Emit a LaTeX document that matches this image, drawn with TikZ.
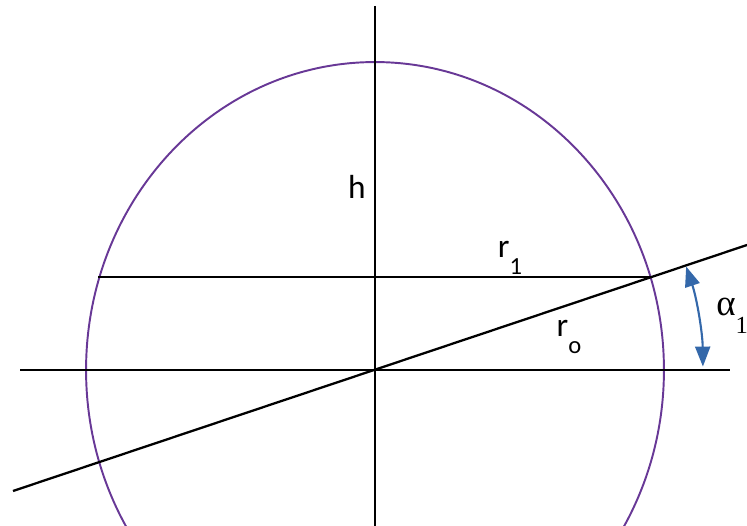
\documentclass[tikz,border=0pt]{standalone}
\usepackage{fontspec}
\setsansfont{Carlito}
\setmainfont{Liberation Serif}
\usetikzlibrary{arrows.meta}
\definecolor{rimpurple}{RGB}{104,56,150}
\definecolor{angleblue}{RGB}{52,104,170}
\newcommand{\sublabel}[2]{#1\raisebox{-0.5em}{\fontsize{14}{16}\selectfont #2}}

\begin{document}
\begin{tikzpicture}[x=0.02cm, y=-0.02cm]
\tikzstyle{axis} = [line width=1pt, black]
\tikzstyle{rim} = [line width=1.1pt, rimpurple]
\tikzstyle{anglearrow} = [line width=1.2pt, angleblue, {Triangle[length=4mm, width=3mm]}-{Triangle[length=4mm, width=3mm]}]
\tikzstyle{label} = [font=\sffamily\fontsize{19}{22}\selectfont, inner sep=0pt]
\tikzstyle{anglelabel} = [font=\rmfamily\fontsize{21}{22}\selectfont, inner sep=0pt]

\useasboundingbox (0,0) rectangle (747,526);

% centre and line ends
\coordinate (O) at (375,370);
\coordinate (Top) at (375,6);
\coordinate (Bottom) at (375,526);
\coordinate (Left) at (20,370);
\coordinate (Right) at (730,370);
\coordinate (ChordLeft) at (98,277);
\coordinate (ChordRight) at (651,277);
\coordinate (SlantLeft) at (13,491);
\coordinate (SlantRight) at (747,245);

\draw [rim] (O) ellipse [x radius=5.78cm, y radius=6.16cm];

\draw [axis] (Top) -- (Bottom);
\draw [axis] (Left) -- (Right);
\draw [axis] (ChordLeft) -- (ChordRight);
\draw [axis, line width=1.3pt] (SlantLeft) -- (SlantRight);

\draw [anglearrow] (O) ++(18.4:6.56cm) arc [start angle=18.4, end angle=0.6, radius=6.56cm];

\node (h) [label] at (357,187) {h};
\node (r1) [label] at (510,258) {\sublabel{r}{1}};
\node (r0) [label] at (569,337) {\sublabel{r}{o}};
\node (alpha1) [anglelabel, anchor=west] at (716,316) {\sublabel{α}{1}};
\end{tikzpicture}
\end{document}
